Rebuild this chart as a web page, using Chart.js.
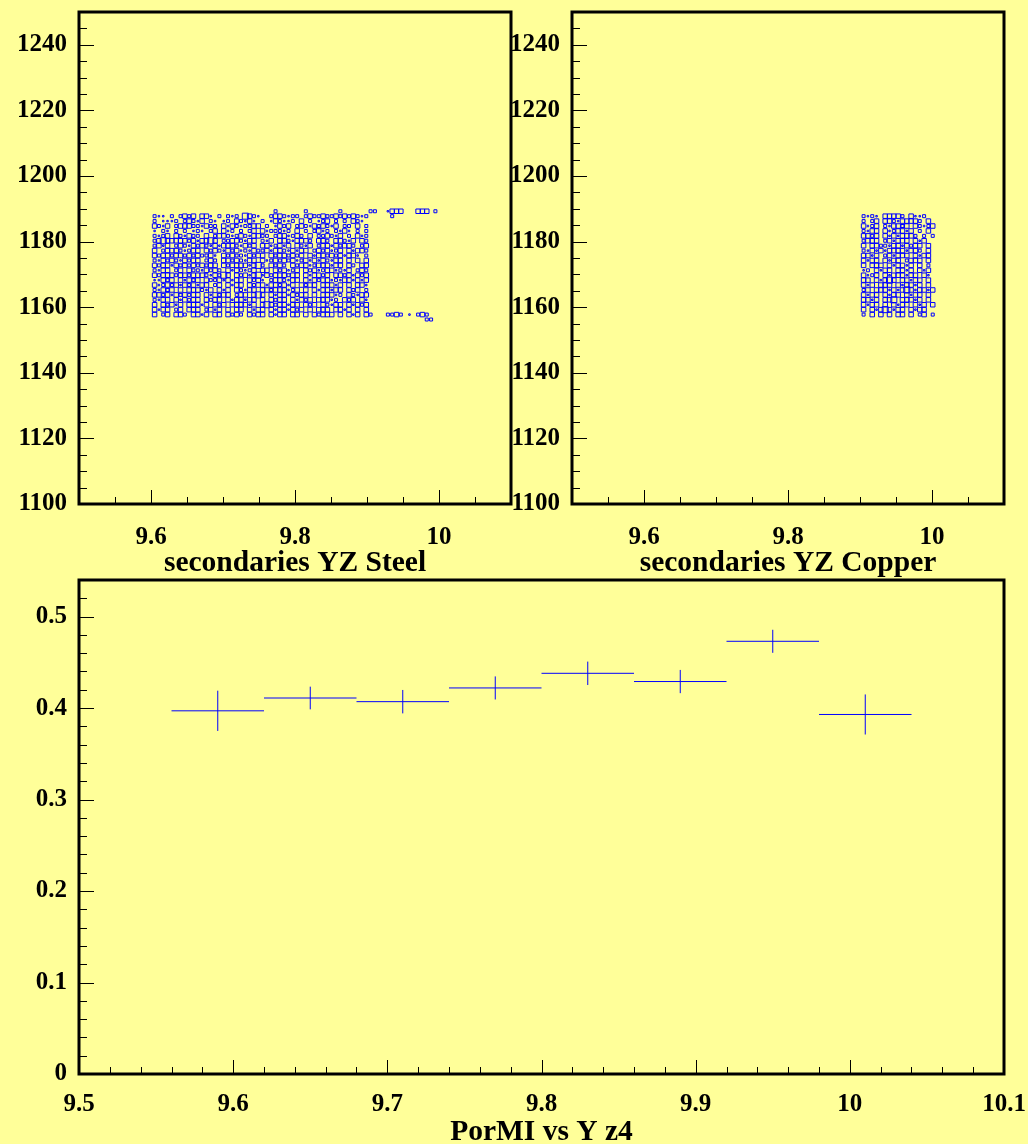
<!DOCTYPE html>
<html>
<head>
<meta charset="utf-8">
<title>secondaries YZ / PorMI vs Y z4</title>
<script src="https://cdn.jsdelivr.net/npm/chart.js@4/dist/chart.umd.min.js"></script>
<style>
  html, body { margin: 0; padding: 0; background: #ffff99; }
  #wrap { position: relative; width: 1028px; height: 1144px; overflow: hidden; background: #ffff99; }
  canvas { position: absolute; left: 0; top: 0; }
</style>
</head>
<body>
<div id="wrap">
  <canvas id="steel" width="1028" height="1144"></canvas>
  <canvas id="copper" width="1028" height="1144"></canvas>
  <canvas id="profile" width="1028" height="1144"></canvas>
</div>
<script>
// ---- YZ occupancy histograms: 100 x 100 cells over the ranges below ----
const yzXRange = [9.5, 10.1];
const yzYRange = [1100, 1250];
const yzBins = 100;
const yzXTicks = [9.6, 9.8, 10];
const yzYTicks = [1100, 1120, 1140, 1160, 1180, 1200, 1220, 1240];

// Cell contents, one string per Y row (top row first), one character per X column.
// '.' = empty, digits = cell content. Spaces only group columns by ten.
const steelFirstCol = 17;
const steelTopRow = 59;
const steelRows = [
  ".......... .......... ........2. .....2.... ...2...... 22..1333.. .333.2.",
  "211.2.2323 .331.2.212 .4321..233 2122.23223 2232323212 .....2.... .......",
  "2.1112.232 13.21.12.3 2131.2.132 112.3.2.12 3.2.2.321.",
  "3213.23332 21322.3132 12233.2.13 23.2321323 213.22.3.2",
  "1.21.2.2.1 21.23.312. 2.23.31222 12.3.2.231 2.2131.2.2",
  "2123.32132 2.3.233212 3213322.23 31232.3.22 3213.2.312",
  "2343333323 13343.2233 2133.213.3 3213332.33 2.33213.32",
  "2313.23213 2321313332 1323.33123 13.3213.23 3132332.23",
  "3.23332123 3.32321323 1213223133 213133.232 3123.31332",
  "3233233232 32231.3232 213233.323 32323.3133 23231331.2",
  "2132321323 3.232.3323 2133.31232 3231231313 2133.3.3.3",
  "3233132323 23233.3233 331342.323 2.32331233 3133.32.33",
  "2133.23.32 213232.313 2123.33.32 3123.32312 331213.232",
  "3233323323 33213243.3 2313413233 3233.31332 3.33231323",
  "11323.3132 3.32231313 3.3231.233 2133.31323 3121331313",
  "3123231323 133.23.313 3.32331332 313.3233.3 3313.3.331",
  "21323.3.33 3213.313.3 2133.33233 3123.3.313 3133.323.2",
  "3323132323 3.313233.2 33.343.313 313233.3.3 3312.32133",
  "2133.31323 3.3233.313 3133.3.323 3.31323.33 312.323.31",
  "3.32313.33 313.323.33 3313.34323 3133.323.3 2133.31323",
  "3133.23.33 3.2313.3.3 3.3133.313 31323.3.33 3.3313.3.3",
  "3.23.332.3 313.33.323 2.3233.313 3.33.3.323 33.3.313.3 2...2232.1 .232...",
  ".......... .......... .......... .......... .......... .......... ...22.."
];

const copperFirstCol = 67;
const copperTopRow = 58;
const copperRows = [
  "2121.33332 .3112..",
  "2.23.33213 3332.3.",
  "3123.21332 3.32123",
  "2133.31233 13.2.3.",
  "3323.31313 332.2.2",
  "2333.23133 3.313..",
  "3.33221331 3233.3.",
  "2131313333 1332.3.",
  "3313.23133 3.3133.",
  "3133.3133. 2333.3.",
  "3.333.3133 13.3.2.",
  "12.3133.33 13.313.",
  "3123.31333 133.31.",
  "33.31343.3 3133.3.",
  "313.333.31 3313.3.",
  "23.3331313 4313313",
  "3133.3133. 3133.3.",
  "3313.334.3 3313.3.",
  "3133.3.313 3.313.3",
  "3.31343133 .3133..",
  "2.3.3.3.33 .3.23.2"
];

// ---- PorMI profile versus Y (bin centres, means, errors on the mean) ----
const profXRange = [9.5, 10.1];
const profYRange = [0, 0.54];
const profCenters = [9.59, 9.65, 9.71, 9.77, 9.83, 9.89, 9.95, 10.01];
const profValues  = [0.397, 0.411, 0.407, 0.422, 0.438, 0.429, 0.473, 0.393];
const profErrors  = [0.022, 0.0124, 0.0128, 0.0126, 0.0128, 0.0127, 0.0126, 0.0219];
const profHalfWidth = 0.03;
const profXTicks = [9.5, 9.6, 9.7, 9.8, 9.9, 10, 10.1];
const profYTicks = [0, 0.1, 0.2, 0.3, 0.4, 0.5];

// ---------------------------------------------------------------------------
const INK = '#000000';
const MARK = '#0000ff';
const tickFont = { family: 'Liberation Serif', size: 25, weight: 'bold', lineHeight: 1 };
const titleFont = { family: 'Liberation Serif', size: 29.5, weight: 'bold', lineHeight: 1 };
const BOX_MAX_SIDE = 6;   // px side of a box holding the largest content
const BOX_MAX_CONTENT = 4;

function fmt(v) { return String(parseFloat(Number(v).toFixed(4))); }

function steps(min, max, step) {
  const out = [];
  const n = Math.round((max - min) / step);
  for (let k = 0; k <= n; k++) out.push(parseFloat((min + k * step).toFixed(6)));
  return out;
}

function cellsFrom(rows, topRow, firstCol) {
  const dx = (yzXRange[1] - yzXRange[0]) / yzBins;
  const dy = (yzYRange[1] - yzYRange[0]) / yzBins;
  const pts = [];
  rows.forEach((row, r) => {
    const s = row.replace(/ /g, '');
    const j = topRow - r;
    for (let k = 0; k < s.length; k++) {
      const c = s[k] === '.' ? 0 : Number(s[k]);
      if (!c) continue;
      const i = firstCol + k;
      pts.push({ x: yzXRange[0] + (i + 0.5) * dx, y: yzYRange[0] + (j + 0.5) * dy, c });
    }
  });
  return pts;
}

function boxRadius(c) {
  // 'rect' point style: side = 2 * radius * SQRT1_2
  const side = BOX_MAX_SIDE * c / BOX_MAX_CONTENT;
  return side / (2 * Math.SQRT1_2);
}

// Frame and inward tick marks, ROOT style
const frameTicks = {
  id: 'frameTicks',
  afterDatasetsDraw(chart, args, opts) {
    const { ctx, chartArea: a, scales: { x, y } } = chart;
    ctx.save();
    ctx.strokeStyle = INK;
    ctx.lineWidth = 1;
    ctx.beginPath();
    const xt = (vals, len) => vals.forEach(v => {
      const px = Math.round(x.getPixelForValue(v)) + 0.5;
      ctx.moveTo(px, a.bottom); ctx.lineTo(px, a.bottom - len);
    });
    const yt = (vals, len) => vals.forEach(v => {
      const py = Math.round(y.getPixelForValue(v)) + 0.5;
      ctx.moveTo(a.left, py); ctx.lineTo(a.left + len, py);
    });
    xt(opts.xMinor, 7); xt(opts.xMajor, 14);
    yt(opts.yMinor, 8); yt(opts.yMajor, 15);
    ctx.stroke();
    ctx.lineWidth = 3;
    ctx.strokeRect(a.left, a.top, a.right - a.left, a.bottom - a.top);
    ctx.restore();
  }
};

function axis(min, max, ticks, size, pad, title, titlePad) {
  return {
    type: 'linear', min, max,
    grid: { display: false, drawTicks: false },
    border: { display: false },
    ticks: {
      autoSkip: false, maxRotation: 0, minRotation: 0, padding: pad,
      color: INK, font: tickFont, callback: v => fmt(v)
    },
    afterBuildTicks: s => { s.ticks = ticks.map(v => ({ value: v })); },
    afterFit: s => {
      if (s.isHorizontal()) s.height = size; else s.width = size;
      s.paddingLeft = s.paddingRight = s.paddingTop = s.paddingBottom = 0;
    },
    title: title
      ? { display: true, text: title, color: INK, font: titleFont, padding: { top: 0, bottom: titlePad } }
      : { display: false }
  };
}

function baseOptions(padding, scales, tickSets) {
  return {
    responsive: false, animation: false, events: [],
    layout: { padding },
    plugins: { legend: { display: false }, tooltip: { enabled: false }, frameTicks: tickSets },
    scales
  };
}

function yzChart(id, rows, topRow, firstCol, title, padLeft) {
  return new Chart(document.getElementById(id), {
    type: 'scatter',
    data: {
      datasets: [{
        data: cellsFrom(rows, topRow, firstCol),
        pointStyle: 'rect',
        backgroundColor: 'rgba(0,0,0,0)',
        borderColor: MARK,
        borderWidth: 1,
        pointRadius: ctx => (ctx.raw ? boxRadius(ctx.raw.c) : 0)
      }]
    },
    options: baseOptions(
      { left: padLeft, top: 12, right: 1028 - (padLeft + 79 + 432), bottom: 564 },
      {
        x: axis(yzXRange[0], yzXRange[1], yzXTicks, 76, 21, title, 2),
        y: axis(yzYRange[0], yzYRange[1], yzYTicks, 79, 12, null, 0)
      },
      {
        xMajor: yzXTicks, xMinor: steps(yzXRange[0], yzXRange[1], 0.05),
        yMajor: yzYTicks, yMinor: steps(yzYRange[0], yzYRange[1], 5)
      }
    ),
    plugins: [frameTicks]
  });
}

yzChart('steel', steelRows, steelTopRow, steelFirstCol, 'secondaries YZ Steel', 0);
yzChart('copper', copperRows, copperTopRow, copperFirstCol, 'secondaries YZ Copper', 493);

// Profile: one horizontal (bin width) and one vertical (error) segment per bin
const profSets = [];
profCenters.forEach((c, k) => {
  const v = profValues[k], e = profErrors[k];
  const seg = { showLine: true, pointRadius: 0, borderColor: MARK, borderWidth: 1, fill: false };
  profSets.push(Object.assign({ data: [{ x: c - profHalfWidth, y: v }, { x: c + profHalfWidth, y: v }] }, seg));
  profSets.push(Object.assign({ data: [{ x: c, y: v - e }, { x: c, y: v + e }] }, seg));
});

new Chart(document.getElementById('profile'), {
  type: 'scatter',
  data: { datasets: profSets },
  options: baseOptions(
    { left: 0, top: 580, right: 24, bottom: 0 },
    {
      x: axis(profXRange[0], profXRange[1], profXTicks, 70, 18, 'PorMI vs Y z4', -3),
      y: axis(profYRange[0], profYRange[1], profYTicks, 79, 12, null, 0)
    },
    {
      xMajor: profXTicks, xMinor: steps(profXRange[0], profXRange[1], 0.02),
      yMajor: profYTicks, yMinor: steps(profYRange[0], 0.54, 0.02)
    }
  ),
  plugins: [frameTicks]
});
</script>
</body>
</html>
